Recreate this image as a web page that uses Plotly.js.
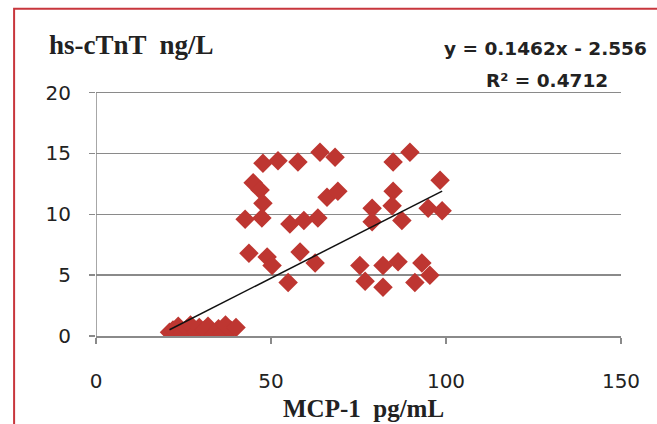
<!DOCTYPE html>
<html>
<head>
<meta charset="utf-8">
<script src="https://cdn.plot.ly/plotly-3.0.1.min.js"></script>
<style>html,body{margin:0;padding:0;background:#fff;}#chart{width:657px;height:424px;}</style>
</head>
<body>
<div id="chart"></div>
<script>
// MCP-1 (pg/mL) values
const mcp1 = [
  21, 22, 23.5, 24.5, 26, 27, 28.5, 29.5, 31, 32, 33.5, 35, 36, 37, 38.5, 40,
  47.7, 52.0, 57.7, 64.0, 68.3, 84.9, 89.7,
  44.9, 46.9, 47.7, 66.0, 69.1, 98.3, 84.9,
  42.6, 47.4, 55.4, 59.4, 63.4, 78.9, 84.6, 78.9, 87.4, 94.9, 98.9,
  43.7, 48.9, 50.3, 58.3, 62.6, 54.9, 75.4, 76.9, 82.0, 86.3, 82.0, 93.1, 95.4, 91.1
];
// hs-cTnT (ng/L) values
const hsctnt = [
  0.3, 0.5, 0.8, 0.2, 0.6, 0.9, 0.3, 0.7, 0.5, 0.8, 0.1, 0.6, 0.2, 0.9, 0.5, 0.7,
  14.2, 14.4, 14.3, 15.1, 14.7, 14.3, 15.1,
  12.6, 12.0, 10.9, 11.4, 11.9, 12.8, 11.9,
  9.6, 9.7, 9.2, 9.5, 9.7, 10.5, 10.7, 9.4, 9.5, 10.5, 10.3,
  6.8, 6.5, 5.8, 6.9, 6.0, 4.4, 5.8, 4.5, 5.8, 6.1, 4.0, 6.0, 5.0, 4.4
];
// Linear trendline reported on the chart
const slope = 0.1462;
const intercept = -2.556;
const r2 = 0.4712;
const xTicks = [0, 50, 100, 150];
const yTicks = [0, 5, 10, 15, 20];

const xMin = Math.min(...mcp1), xMax = Math.max(...mcp1);
const trendX = [xMin, xMax];
const trendY = trendX.map(v => slope * v + intercept);
const yTop = Math.max(...yTicks);
const xLo = Math.min(...xTicks), xHi = Math.max(...xTicks);

const traces = [
  {
    x: mcp1, y: hsctnt, type: 'scatter', mode: 'markers',
    marker: {symbol: 'diamond', size: 15, color: '#BE3631', line: {width: 0}},
    hoverinfo: 'x+y', showlegend: false
  },
  {
    x: trendX, y: trendY, type: 'scatter', mode: 'lines',
    line: {color: '#111111', width: 1.5}, showlegend: false, hoverinfo: 'skip'
  }
];

// plot area: bottom at 336px, y=20 at ~93px; small headroom so top gridline is drawn
const headroom = 0.3;

const layout = {
  width: 657, height: 424,
  margin: {l: 96, r: 36, t: 89, b: 88, pad: 0},
  paper_bgcolor: '#ffffff', plot_bgcolor: '#ffffff',
  showlegend: false,
  xaxis: {
    range: [xLo, xHi], tickvals: xTicks, ticktext: xTicks.map(String),
    showgrid: false, zeroline: false,
    showline: true, linecolor: '#8a8a8a', linewidth: 1.5,
    ticks: 'outside', ticklen: 6, tickcolor: '#8a8a8a', tickwidth: 1.5,
    ticklabelstandoff: 20,
    tickfont: {family: 'DejaVu Sans', size: 20, color: '#222222'},
    title: {text: ''}
  },
  yaxis: {
    range: [0, yTop + headroom], tickvals: yTicks, ticktext: yTicks.map(String),
    showgrid: true, gridcolor: '#8a8a8a', gridwidth: 1.5,
    zeroline: false,
    showline: false,
    ticks: 'outside', ticklen: 6, tickcolor: '#8a8a8a', tickwidth: 1.5,
    ticklabelstandoff: 14,
    tickfont: {family: 'DejaVu Sans', size: 20, color: '#222222'},
    title: {text: ''}
  },
  shapes: [
    {type: 'line', xref: 'x', yref: 'y', x0: xLo, x1: xLo, y0: 0, y1: yTop,
     line: {color: '#8a8a8a', width: 1.5}, layer: 'below'},
    {type: 'rect', xref: 'paper', yref: 'paper',
     x0: -0.156, x1: 1.2, y0: -0.6, y1: 1.325,
     line: {color: '#C8363C', width: 2}, fillcolor: 'rgba(0,0,0,0)', layer: 'below'}
  ],
  annotations: [
    {xref: 'paper', yref: 'paper', x: -0.093, y: 1.18, xanchor: 'left', yanchor: 'middle',
     text: '<b>hs-cTnT  ng/L</b>', showarrow: false,
     font: {family: 'Liberation Serif', size: 27, color: '#222222'}},
    {xref: 'paper', yref: 'paper', x: 0.51, y: -0.295, xanchor: 'center', yanchor: 'middle',
     text: '<b>MCP-1  pg/mL</b>', showarrow: false,
     font: {family: 'Liberation Serif', size: 25, color: '#222222'}},
    {xref: 'paper', yref: 'paper', x: 0.857, y: 1.164, xanchor: 'center', yanchor: 'middle',
     text: '<b>y = ' + slope + 'x - ' + Math.abs(intercept) + '</b>', showarrow: false,
     font: {family: 'DejaVu Sans', size: 18.5, color: '#222222'}},
    {xref: 'paper', yref: 'paper', x: 0.859, y: 1.036, xanchor: 'center', yanchor: 'middle',
     text: '<b>R² = ' + r2 + '</b>', showarrow: false,
     font: {family: 'DejaVu Sans', size: 18.5, color: '#222222'}}
  ]
};

Plotly.newPlot('chart', traces, layout, {displayModeBar: false, staticPlot: true});
</script>
</body>
</html>
